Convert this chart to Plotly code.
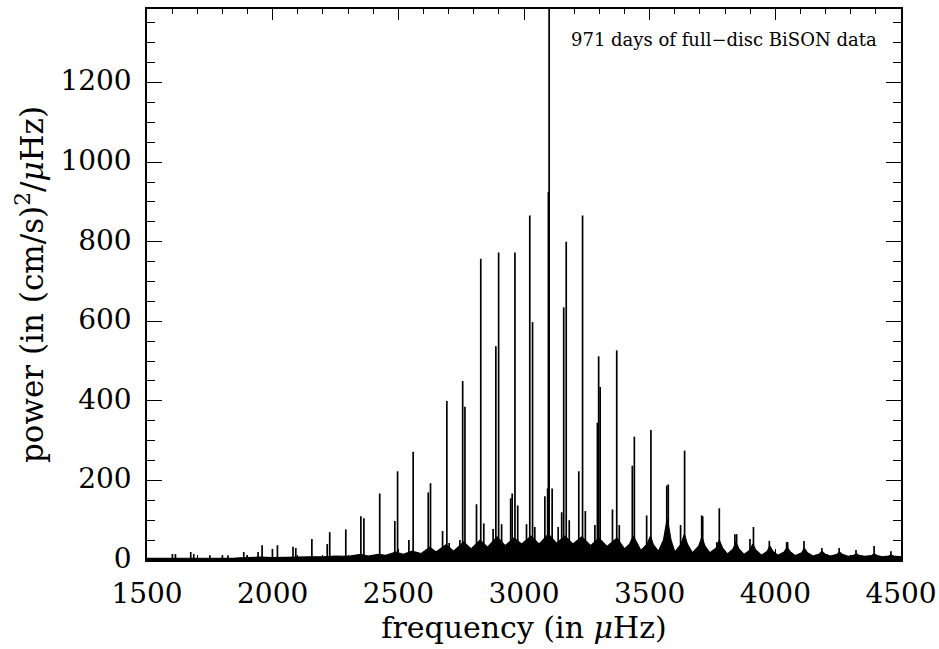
import plotly.graph_objects as go

# ---- data ----
peak_freq = [1601, 1613, 1674, 1686, 1750, 1800, 1822, 1885, 1898, 1942, 1958, 1999, 2019,
             2081, 2092, 2156, 2217, 2227, 2291, 2351, 2363, 2426, 2486, 2497, 2542, 2559,
             2619, 2628, 2676, 2693, 2702, 2745, 2756, 2765, 2811, 2828, 2840, 2877, 2888,
             2899, 2911, 2947, 2953, 2964, 2975, 3010, 3023, 3034, 3043, 3083, 3094, 3097,
             3100, 3112, 3136, 3150, 3158, 3168, 3180, 3218, 3233, 3244, 3282, 3292, 3297,
             3303, 3352, 3369, 3379, 3431, 3439, 3488, 3505, 3568, 3574, 3623, 3639, 3707,
             3711, 3767, 3777, 3839, 3846, 3899, 3913, 3976, 4045, 4049, 4114, 4185, 4254,
             4321, 4393, 4460]
peak_power = [15, 15, 20, 15, 12, 12, 12, 20, 12, 20, 37, 28, 37,
              33, 30, 53, 40, 70, 77, 110, 105, 167, 98, 223, 50, 272,
              170, 193, 73, 400, 43, 50, 450, 385, 140, 757, 92, 78, 537,
              773, 90, 155, 167, 773, 137, 90, 866, 598, 83, 160, 180, 925,
              1500, 180, 83, 120, 635, 800, 100, 223, 866, 123, 88, 345, 512,
              435, 127, 527, 88, 237, 310, 112, 327, 187, 190, 88, 275, 112,
              110, 45, 130, 65, 65, 53, 83, 48, 45, 45, 48, 30, 30,
              25, 35, 22]

floor_freq = [1500, 1550, 1600, 1650, 1700, 1750, 1800, 1850, 1900, 1950, 2000, 2050, 2100,
              2150, 2200, 2250, 2300, 2350, 2380, 2420, 2450, 2490, 2520, 2555, 2590, 2625,
              2650, 2690, 2720, 2760, 2790, 2825, 2855, 2893, 2925, 2960, 2990, 3028, 3060,
              3097, 3130, 3163, 3195, 3230, 3265, 3298, 3330, 3370, 3400, 3420, 3435, 3450,
              3465, 3490, 3503, 3515, 3535, 3555, 3570, 3585, 3600, 3625, 3638, 3650, 3670,
              3695, 3708, 3720, 3740, 3765, 3777, 3790, 3810, 3832, 3843, 3855, 3875, 3900,
              3910, 3922, 3945, 3968, 3978, 3990, 4010, 4035, 4047, 4060, 4080, 4105, 4115,
              4128, 4150, 4175, 4185, 4197, 4220, 4245, 4255, 4267, 4290, 4312, 4322, 4333,
              4355, 4383, 4393, 4405, 4425, 4450, 4460, 4472, 4500]
floor_power = [4, 4, 5, 4, 5, 4, 5, 5, 6, 7, 6, 7, 7,
               8, 8, 10, 9, 14, 10, 14, 12, 20, 14, 22, 16, 32,
               20, 38, 22, 45, 28, 50, 32, 58, 36, 55, 40, 60, 40,
               65, 42, 60, 40, 58, 36, 55, 34, 55, 28, 40, 60, 40,
               24, 40, 60, 38, 22, 50, 105, 50, 20, 40, 65, 40, 18,
               35, 58, 35, 18, 30, 50, 30, 15, 28, 45, 28, 14, 25,
               40, 25, 12, 22, 35, 22, 12, 20, 32, 20, 11, 18, 30,
               18, 10, 15, 22, 15, 10, 14, 20, 14, 9, 12, 16, 12,
               9, 11, 15, 11, 8, 10, 12, 10, 8]

x_ticks = [1500, 2000, 2500, 3000, 3500, 4000, 4500]
y_ticks = [0, 200, 400, 600, 800, 1000, 1200]

annotation_text = "971 days of full\u2212disc BiSON data"

# ---- build figure ----
spike_x, spike_y = [], []
for f, p in zip(peak_freq, peak_power):
    spike_x += [f, f, None]
    spike_y += [0, p, None]

fig = go.Figure()
fig.add_trace(go.Scatter(x=floor_freq, y=floor_power, mode="lines", fill="tozeroy",
                         line=dict(color="black", width=1.2), fillcolor="black",
                         hoverinfo="skip", showlegend=False))
fig.add_trace(go.Scatter(x=spike_x, y=spike_y, mode="lines",
                         line=dict(color="black", width=1.7),
                         showlegend=False))

tick_font = dict(family="DejaVu Serif", size=28, color="black")
xtitle_font = dict(family="DejaVu Serif", size=30, color="black")
ytitle_font = dict(family="DejaVu Serif", size=31, color="black")

fig.update_layout(
    width=939, height=649,
    margin=dict(l=147, r=38, t=9, b=89),
    paper_bgcolor="white", plot_bgcolor="white",
    font=tick_font,
    xaxis=dict(range=[1500, 4500], tickvals=x_ticks, ticktext=[str(v) for v in x_ticks],
               ticks="inside", ticklen=11, tickwidth=1.2, tickcolor="black",
               minor=dict(dtick=100, ticklen=5, tickwidth=1, tickcolor="black", ticks="inside"),
               showline=True, linecolor="black", linewidth=1.5, mirror="allticks",
               showgrid=False, zeroline=False, automargin=False,
               tickfont=tick_font, ticklabelstandoff=8,
               title=dict(text="frequency (in <i>\u03bc</i>Hz)", font=xtitle_font, standoff=6)),
    yaxis=dict(range=[0, 1385], tickvals=y_ticks, ticktext=[str(v) for v in y_ticks],
               ticks="inside", ticklen=15, tickwidth=1.2, tickcolor="black",
               minor=dict(dtick=50, ticklen=8, tickwidth=1, tickcolor="black", ticks="inside"),
               showline=True, linecolor="black", linewidth=1.5, mirror="allticks",
               showgrid=False, zeroline=False, automargin=False,
               tickfont=tick_font, ticklabelstandoff=8, ticklabelshift=-2,
               title=dict(text="power (in (cm/s)<sup>2</sup>/<i>\u03bc</i>Hz)", font=ytitle_font,
                          standoff=8)),
    annotations=[dict(text=annotation_text, xref="paper", yref="paper", x=0.971, y=0.944,
                      xanchor="right", yanchor="middle", showarrow=False,
                      font=dict(family="DejaVu Serif", size=18, color="black"))],
)

fig.write_html("out.html", config={"displayModeBar": False},
               post_script="document.body.style.margin='0px';document.body.style.overflow='hidden';")
